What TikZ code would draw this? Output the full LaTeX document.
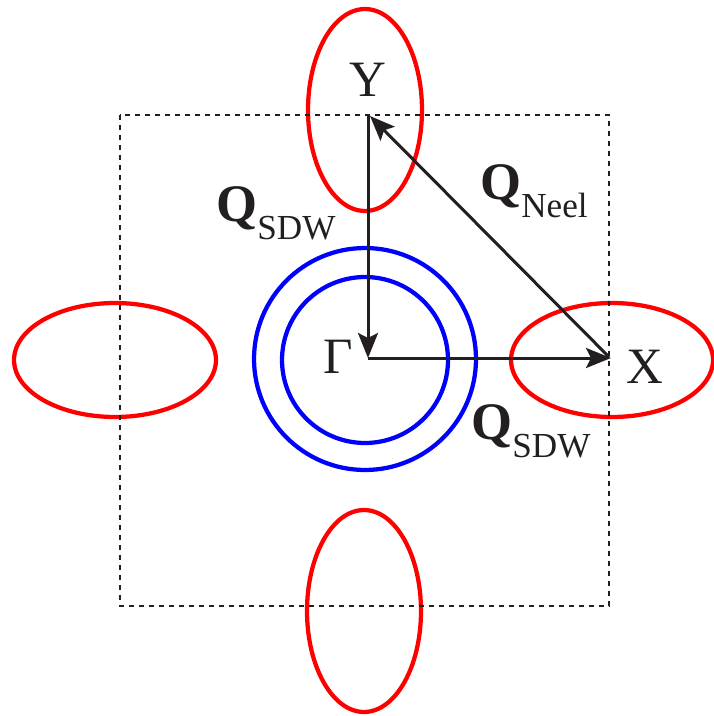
\documentclass[tikz,border=0pt]{standalone}
\usepackage{fontspec}
\setmainfont{Liberation Serif}
\usepackage{tikz}
\usetikzlibrary{arrows.meta, positioning}

\definecolor{inkblack}{RGB}{35,31,32}

\newcommand{\bigtxt}{\fontsize{29}{29}\selectfont}
\newcommand{\qvec}[1]{{\fontsize{30}{30}\selectfont\bfseries Q}\raisebox{-10.8pt}{\fontsize{20}{20}\selectfont #1}}

\begin{document}
\begin{tikzpicture}[x=0.02cm, y=-0.02cm,
        hole/.style={draw=red, line width=0.085cm},
        elec/.style={draw=blue, line width=0.085cm},
        zone/.style={draw=inkblack, line width=0.04cm, dash pattern=on 0.1cm off 0.1cm},
        vec/.style={draw=inkblack, line width=0.06cm, -{Stealth[length=0.5cm, width=0.4cm, inset=0.1cm]}},
        lbl/.style={text=inkblack, inner sep=0pt, font=\bigtxt}]
    \useasboundingbox (0,0) rectangle (713,716);

    % Hole pockets
    \draw[hole] (365,110) ellipse [x radius=1.14cm, y radius=2.02cm];
    \draw[hole] (364,611) ellipse [x radius=1.14cm, y radius=2.02cm];
    \draw[hole] (115,360) ellipse [x radius=2.02cm, y radius=1.14cm];
    \draw[hole] (612,360) ellipse [x radius=2.02cm, y radius=1.14cm];

    % Electron pockets
    \draw[elec] (365,359) circle [radius=2.22cm];
    \draw[elec] (365,360) circle [radius=1.66cm];

    % Brillouin zone
    \draw[zone] (120,115) rectangle (609,606);

    % Points
    \coordinate (G) at (368,358);
    \coordinate (Xp) at (611,358);
    \coordinate (Yp) at (368,114);
    \coordinate (Xs) at (609,357);
    \coordinate (Ys) at (370,116);

    \node[lbl, anchor=base] (ylab) at (368,97) {Y};
    \node[lbl, anchor=base] (xlab) at (645,383) {X};
    \node[lbl, anchor=base] (glab) at (338,373) {Γ};

    % Nesting vectors
    \draw[vec] (Yp) -- (G);
    \draw[vec] (G) -- (Xp);
    \draw[vec] (Xs) -- (Ys);

    \node[lbl, anchor=base west] (qsdw1) at (216,221) {\qvec{SDW}};
    \node[lbl, anchor=base west] (qneel) at (480,199) {\qvec{Neel}};
    \node[lbl, anchor=base west] (qsdw2) at (471,439) {\qvec{SDW}};
\end{tikzpicture}
\end{document}
